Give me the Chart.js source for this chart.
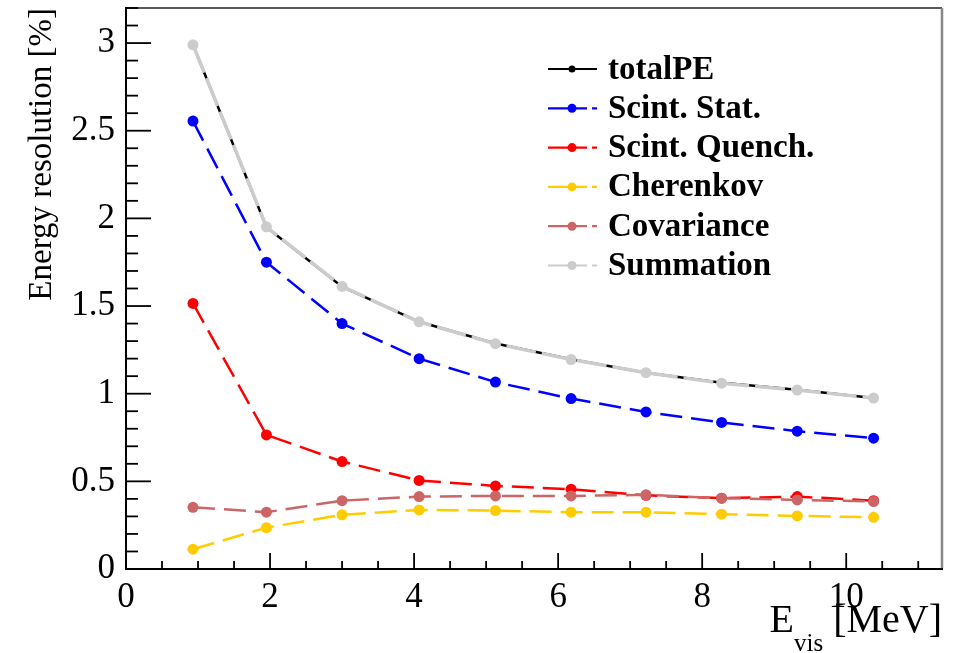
<!DOCTYPE html>
<html>
<head>
<meta charset="utf-8">
<script src="https://cdn.jsdelivr.net/npm/chart.js@4/dist/chart.umd.min.js"></script>
<style>
  html, body { margin: 0; padding: 0; background: #ffffff; }
  #wrap { width: 960px; height: 653px; position: relative; }
</style>
</head>
<body>
<div id="wrap"><canvas id="c" width="960" height="653"></canvas></div>
<script>
// ---- data ----
const energies    = [0.93, 1.95, 3.00, 4.07, 5.13, 6.18, 7.22, 8.27, 9.32, 10.38];
const totalPE     = [2.99, 1.95, 1.61, 1.41, 1.286, 1.196, 1.12, 1.062, 1.022, 0.975];
const scintStat   = [2.555, 1.75, 1.40, 1.20, 1.066, 0.972, 0.896, 0.836, 0.786, 0.746];
const scintQuench = [1.515, 0.765, 0.613, 0.505, 0.474, 0.455, 0.42, 0.404, 0.413, 0.39];
const cherenkov   = [0.113, 0.236, 0.309, 0.337, 0.333, 0.324, 0.324, 0.313, 0.303, 0.295];
const covariance  = [0.352, 0.324, 0.39, 0.413, 0.417, 0.417, 0.423, 0.404, 0.394, 0.385];
const summation   = [2.99, 1.952, 1.612, 1.41, 1.285, 1.195, 1.12, 1.06, 1.021, 0.975];

const seriesNames = ["totalPE", "Scint. Stat.", "Scint. Quench.", "Cherenkov", "Covariance", "Summation"];
const xTicks = [0, 2, 4, 6, 8, 10];
const xTickLabels = ["0", "2", "4", "6", "8", "10"];
const yTicks = [0, 0.5, 1, 1.5, 2, 2.5, 3];
const yTickLabels = ["0", "0.5", "1", "1.5", "2", "2.5", "3"];
const xTitle = ["E", "vis", " [MeV]"];
const yTitle = "Energy resolution [%]";

// ---- styles ----
const colors = ["#000000", "#0000ff", "#ff0000", "#ffcc00", "#cc6666", "#cccccc"];
const dashes = [[], [22, 9], [22, 9], [22, 9], [22, 9], [30, 6]];
const widths = [2.5, 2.5, 2.5, 2.5, 2.5, 3.5];
const orders = [6, 5, 4, 3, 2, 1];
const allValues = [totalPE, scintStat, scintQuench, cherenkov, covariance, summation];

const toPoints = arr => energies.map((e, i) => ({ x: e, y: arr[i] }));

const datasets = allValues.map((vals, i) => ({
  label: seriesNames[i],
  data: toPoints(vals),
  showLine: true,
  borderColor: colors[i],
  backgroundColor: colors[i],
  pointBackgroundColor: colors[i],
  pointBorderColor: colors[i],
  borderWidth: widths[i],
  borderDash: dashes[i],
  pointRadius: i === 0 ? 3.5 : 5.5,
  pointBorderWidth: 0,
  tension: 0,
  order: orders[i]
}));

const SERIF = "'Liberation Serif', 'DejaVu Serif', serif";

const framePlugin = {
  id: 'frameTicks',
  afterDatasetsDraw(chart) {
    const { ctx, chartArea: a, scales: { x, y } } = chart;
    ctx.save();
    ctx.lineCap = 'butt';
    ctx.strokeStyle = '#222';
    ctx.lineWidth = 1.5;
    ctx.beginPath(); ctx.moveTo(a.left, a.top); ctx.lineTo(a.right, a.top); ctx.stroke();
    ctx.strokeStyle = '#888';
    ctx.lineWidth = 2.5;
    ctx.beginPath(); ctx.moveTo(a.right, a.top); ctx.lineTo(a.right, a.bottom); ctx.stroke();
    ctx.strokeStyle = '#000';
    ctx.lineWidth = 2;
    ctx.beginPath(); ctx.moveTo(a.left, a.top - 1); ctx.lineTo(a.left, a.bottom); ctx.lineTo(a.right + 1, a.bottom); ctx.stroke();
    ctx.lineWidth = 1.8;
    for (let k = 0; k * 0.5 <= x.max + 1e-9; k++) {
      const px = x.getPixelForValue(k * 0.5);
      const len = (k % 4 === 0) ? 16 : 8;
      ctx.beginPath(); ctx.moveTo(px, a.bottom); ctx.lineTo(px, a.bottom - len); ctx.stroke();
    }
    for (let k = 0; k * 0.1 <= y.max + 1e-9; k++) {
      const py = y.getPixelForValue(k * 0.1);
      const len = (k % 5 === 0) ? 25 : 12;
      ctx.beginPath(); ctx.moveTo(a.left, py); ctx.lineTo(a.left + len, py); ctx.stroke();
    }
    ctx.fillStyle = '#000';
    ctx.font = "33px " + SERIF;
    ctx.save();
    ctx.translate(42, a.top);
    ctx.rotate(-Math.PI / 2);
    ctx.textAlign = 'right';
    ctx.textBaseline = 'middle';
    ctx.fillText(yTitle, 0, 0);
    ctx.restore();

    const big = "40px " + SERIF, small = "25px " + SERIF;
    ctx.textBaseline = 'alphabetic';
    ctx.textAlign = 'left';
    ctx.font = big; const w1 = ctx.measureText(xTitle[0]).width; const w3 = ctx.measureText(xTitle[2]).width;
    ctx.font = small; const w2 = ctx.measureText(xTitle[1]).width;
    const sx = a.right - (w1 + w2 + w3);
    const base = 632;
    ctx.font = big; ctx.fillText(xTitle[0], sx, base);
    ctx.font = small; ctx.fillText(xTitle[1], sx + w1, base + 19);
    ctx.font = big; ctx.fillText(xTitle[2], sx + w1 + w2, base);

    const lx0 = 548, lx1 = 597, mx = 572, tx = 608;
    chart.data.datasets.forEach((ds, i) => {
      const ly = 69 + i * 39.3;
      ctx.strokeStyle = ds.borderColor;
      ctx.lineWidth = 2.2;
      ctx.setLineDash(i === 0 ? [] : [39, 5, 5, 200]);
      ctx.beginPath(); ctx.moveTo(lx0, ly); ctx.lineTo(lx1, ly); ctx.stroke();
      ctx.setLineDash([]);
      ctx.fillStyle = ds.backgroundColor;
      ctx.beginPath(); ctx.arc(mx, ly, i === 0 ? 3.5 : 4.5, 0, Math.PI * 2); ctx.fill();
      ctx.fillStyle = '#000';
      ctx.font = "bold 33px " + SERIF;
      ctx.textBaseline = 'middle';
      ctx.textAlign = 'left';
      ctx.fillText(ds.label, tx, ly + 1);
    });
    ctx.restore();
  }
};

new Chart(document.getElementById('c'), {
  type: 'scatter',
  data: { datasets },
  options: {
    responsive: false,
    animation: false,
    devicePixelRatio: 1,
    layout: { padding: { top: 8, right: 18, left: 0, bottom: 0 } },
    plugins: { legend: { display: false }, tooltip: { enabled: false } },
    scales: {
      x: {
        type: 'linear', min: 0, max: 11.33,
        grid: { display: false, drawTicks: false },
        border: { display: false },
        afterBuildTicks: s => { s.ticks = xTicks.map(v => ({ value: v })); },
        afterFit: s => { s.height = 84; s.paddingLeft = 0; s.paddingRight = 0; },
        ticks: {
          autoSkip: false, maxRotation: 0, padding: 8,
          color: '#000', font: { family: SERIF, size: 35 },
          callback: (v) => xTickLabels[xTicks.indexOf(v)] ?? ''
        }
      },
      y: {
        type: 'linear', min: 0, max: 3.2,
        grid: { display: false, drawTicks: false },
        border: { display: false },
        afterBuildTicks: s => { s.ticks = yTicks.map(v => ({ value: v })); },
        afterFit: s => { s.width = 126; s.paddingTop = 0; s.paddingBottom = 0; },
        ticks: {
          autoSkip: false, padding: 11,
          color: '#000', font: { family: SERIF, size: 35 },
          callback: (v) => yTickLabels[yTicks.indexOf(v)] ?? ''
        }
      }
    }
  },
  plugins: [framePlugin]
});
</script>
</body>
</html>
